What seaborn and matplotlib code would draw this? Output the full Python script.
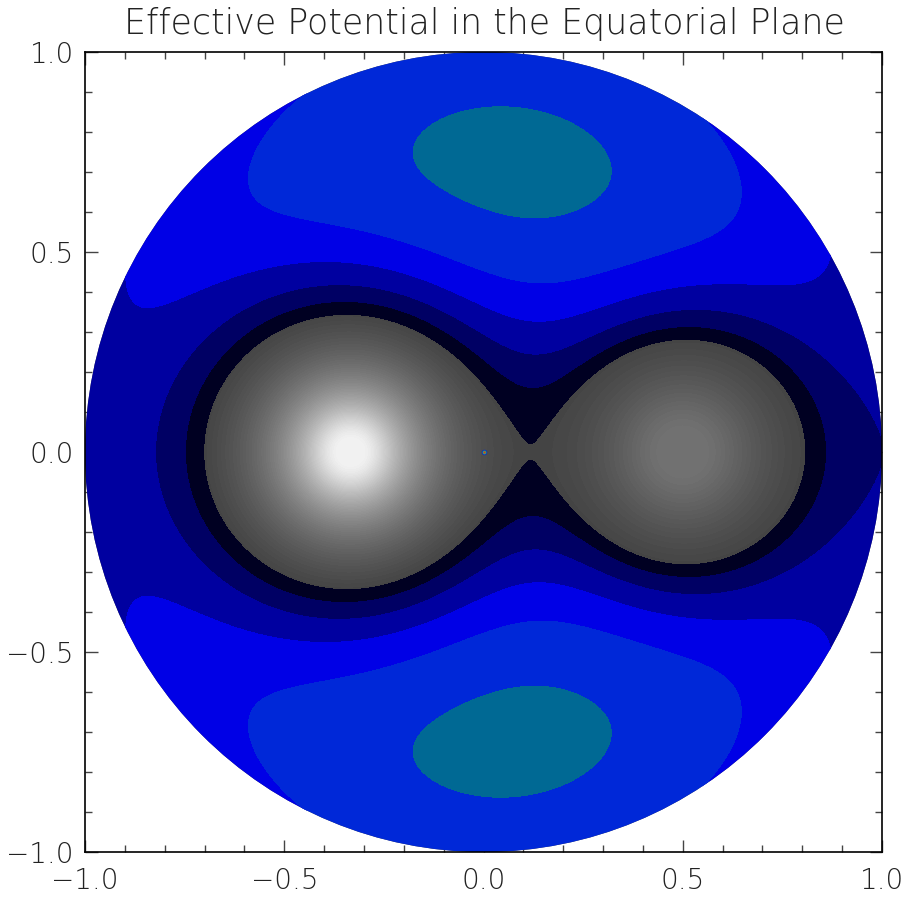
import numpy as np
import matplotlib
matplotlib.use("Agg")
import matplotlib.pyplot as plt
from matplotlib.patches import Circle
from matplotlib.ticker import MultipleLocator, FuncFormatter
import seaborn as sns

# Binary system (units: G*M_total = 1, separation a = 5/6, centre of mass at origin)
star_x = [-1.0 / 3.0, 0.5]
star_mass = [0.6, 0.4]
separation = 5.0 / 6.0
x_l1 = 0.118

# Filled potential bands outside the Roche lobes, from the L1 surface outward
band_levels = [-2.386, -2.251, -2.113, -1.975, -1.837, -1.692, 0.0]
band_colors = ["#000022", "#000064", "#0000A0", "#0000E6", "#0028D8", "#006994"]

# Grey shading inside the lobes: peak brightness and depth scale per star
lobe_floor = 68.0
lobe_peak = [174.0, 46.0]
lobe_scale = [3.5, 1.5]

axis_ticks = [-1.0, -0.5, 0.0, 0.5, 1.0]

sns.set_style("ticks")
plt.rcParams["font.family"] = ["DejaVu Sans"]

omega2 = sum(star_mass) / separation ** 3
g = np.linspace(-1.0, 1.0, 1201)
X, Y = np.meshgrid(g, g)
r1 = np.maximum(np.hypot(X - star_x[0], Y), 1e-4)
r2 = np.maximum(np.hypot(X - star_x[1], Y), 1e-4)
phi = -star_mass[0] / r1 - star_mass[1] / r2 - 0.5 * omega2 * (X ** 2 + Y ** 2)

depth = np.clip(band_levels[0] - phi, 0.0, None)
shade = np.where(
    X < x_l1,
    lobe_floor + lobe_peak[0] * (1.0 - np.exp(-depth / lobe_scale[0])),
    lobe_floor + lobe_peak[1] * (1.0 - np.exp(-depth / lobe_scale[1])),
)

fig = plt.figure(figsize=(9.11, 8.99), dpi=100)
ax = fig.add_axes([85 / 911, 1 - 852 / 899, 797 / 911, 800 / 899])

disk = Circle((0, 0), 1.0, transform=ax.transData, facecolor="none", edgecolor="none")
ax.add_patch(disk)

shade_levels = np.arange(lobe_floor - 1, 256, 2.5)
cs_grey = ax.contourf(X, Y, shade, levels=shade_levels, cmap="gray", vmin=0, vmax=255,
                      antialiased=False)
cs_grey.set_clip_path(disk)

cs_band = ax.contourf(X, Y, phi, levels=band_levels, colors=band_colors, antialiased=False)
cs_band.set_clip_path(disk)

# centre of mass marker
ax.scatter([0], [0], s=16, color="#1030C0", zorder=5, linewidths=0)
ax.scatter([0], [0], s=7, color="#30C060", zorder=6, linewidths=0)
ax.scatter([0], [0], s=2.5, color="#E03020", zorder=7, linewidths=0)

ax.set_xlim(-1, 1)
ax.set_ylim(-1, 1)
ax.set_facecolor("white")

fmt = FuncFormatter(lambda v, p: f"{v:.1f}".replace("-", "\u2212"))
ax.xaxis.set_minor_locator(MultipleLocator(0.1))
ax.yaxis.set_minor_locator(MultipleLocator(0.1))
ax.set_xticks(axis_ticks)
ax.set_yticks(axis_ticks)
ax.xaxis.set_major_formatter(fmt)
ax.yaxis.set_major_formatter(fmt)

ax.tick_params(which="both", direction="in", top=True, right=True, color="#444444")
ax.tick_params(which="major", length=9, width=1.0)
ax.tick_params(which="minor", length=5, width=1.0)
ax.tick_params(axis="x", which="major", pad=11, labelcolor="#222222")
ax.tick_params(axis="y", which="major", pad=8, labelcolor="#222222")
for lab in ax.get_xticklabels() + ax.get_yticklabels():
    lab.set_fontsize(20)
    lab.set_fontweight("light")
for sp in ax.spines.values():
    sp.set_color("black")
    sp.set_linewidth(1.2)

fig.text(484 / 911, 1 - 24 / 899, "Effective Potential in the Equatorial Plane",
         ha="center", va="center", fontsize=25, color="#222222",
         family=["DejaVu Sans"], fontweight="light")

fig.savefig("out.png", dpi=100)
